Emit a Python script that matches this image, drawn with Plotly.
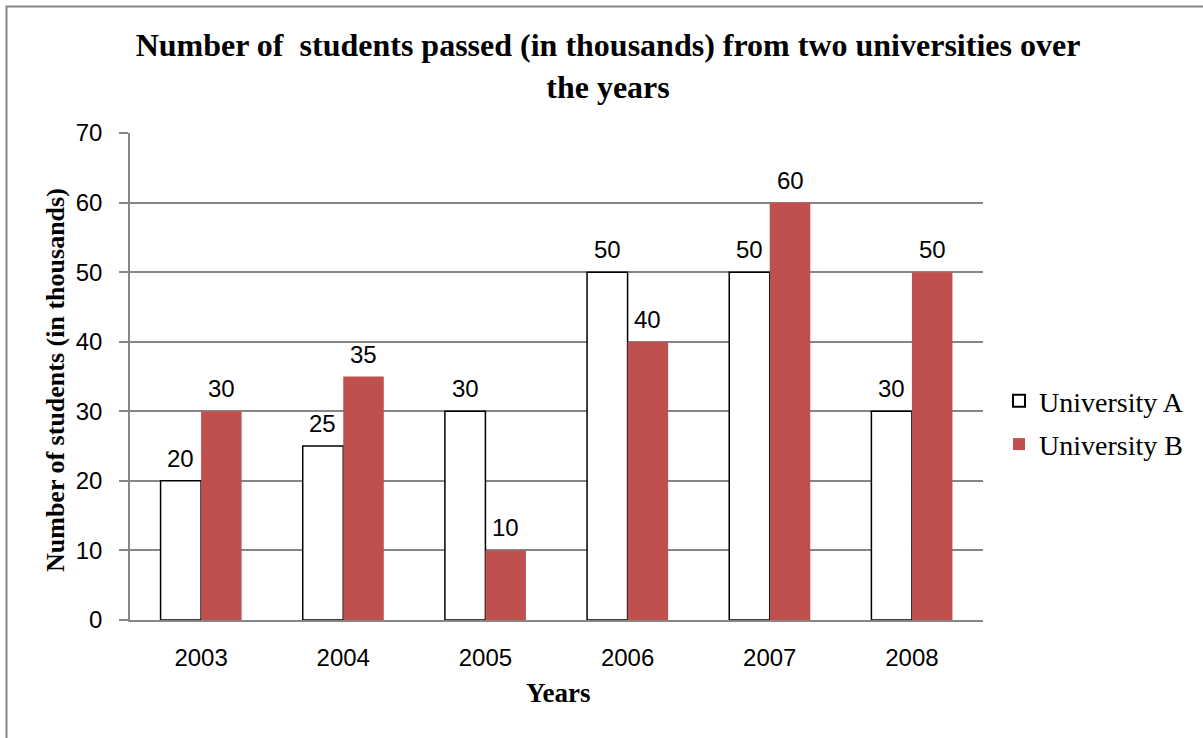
import plotly.graph_objects as go

years = ["2003", "2004", "2005", "2006", "2007", "2008"]
univ_a = [20, 25, 30, 50, 50, 30]
univ_b = [30, 35, 10, 40, 60, 50]
y_ticks = [0, 10, 20, 30, 40, 50, 60, 70]

W, H = 1203, 738
L, R, T, B = 130, 220, 133, 118
pw, ph = W - L - R, H - T - B

sans = "Liberation Sans"
serif = "Liberation Serif"

fig = go.Figure()
fig.add_trace(go.Bar(
    name="University A", x=years, y=univ_a, legendgroup="a",
    marker=dict(color="white", line=dict(color="black", width=1.5)),
))
fig.add_trace(go.Bar(
    name="University B", x=years, y=univ_b, legendgroup="b",
    marker=dict(color="#C0504D", line=dict(width=0)),
))

def px_x(p):
    return (p - L) / pw

def px_y(p):
    return (H - B - p) / ph

bargap = 0.43
half_bar = (pw / len(years)) * (1 - bargap) / 4  # centre offset of each bar in a group

# value labels: x given as the category index on the category axis
label_annots = []
for series, shift in ((univ_a, -half_bar), (univ_b, half_bar)):
    for i, v in enumerate(series):
        label_annots.append(dict(
            x=i, y=v, xref="x", yref="y", text=str(v), showarrow=False,
            xanchor="center", yanchor="bottom", xshift=shift, yshift=7,
            font=dict(family=sans, size=24, color="black"),
        ))

fig.update_layout(
    width=W, height=H,
    margin=dict(l=L, r=R, t=T, b=B, autoexpand=False),
    paper_bgcolor="white", plot_bgcolor="white",
    barmode="group", bargap=bargap, bargroupgap=0,
    showlegend=True,
    legend=dict(x=px_x(999), y=px_y(376), xanchor="left", yanchor="top",
                font=dict(family=serif, size=28, color="black"),
                traceorder="grouped", tracegroupgap=4,
                itemsizing="constant", bgcolor="rgba(0,0,0,0)"),
    title=dict(
        text="<b>Number of  students passed (in thousands) from two universities over<br>the years</b>",
        x=px_x(608), xanchor="center", xref="paper",
        y=1 - 56 / H, yanchor="middle",
        font=dict(family=serif, size=32, color="black"),
    ),
    xaxis=dict(
        type="category", categoryorder="array", categoryarray=years,
        range=[-0.5, len(years) - 0.5],
        showline=True, linecolor="#868686", linewidth=1.5,
        ticks="", showgrid=False,
        tickfont=dict(family=sans, size=24, color="black"),
        ticklabelstandoff=15,
    ),
    yaxis=dict(
        range=[0, 70], tickvals=y_ticks,
        showline=True, linecolor="#868686", linewidth=1.5,
        ticks="outside", ticklen=9, tickcolor="#868686", tickwidth=1.5,
        showgrid=True, gridcolor="#868686", gridwidth=1.5,
        zeroline=False,
        tickfont=dict(family=sans, size=24, color="black"),
        ticklabelstandoff=12,
    ),
    annotations=label_annots + [
        dict(text="<b>Number of students (in thousands)</b>", textangle=-90,
             x=px_x(55), y=px_y(380), xref="paper", yref="paper",
             xanchor="center", yanchor="middle", showarrow=False,
             font=dict(family=serif, size=26, color="black")),
        dict(text="<b>Years</b>", x=px_x(558), y=px_y(693), xref="paper", yref="paper",
             xanchor="center", yanchor="middle", showarrow=False,
             font=dict(family=serif, size=27, color="black")),
    ],
    shapes=[
        dict(type="rect", xref="paper", yref="paper",
             x0=px_x(6.5), x1=px_x(1215), y0=px_y(760), y1=px_y(6.5),
             line=dict(color="#868686", width=2), fillcolor="rgba(0,0,0,0)", layer="below"),
    ],
)

fig.write_html("out.html")
